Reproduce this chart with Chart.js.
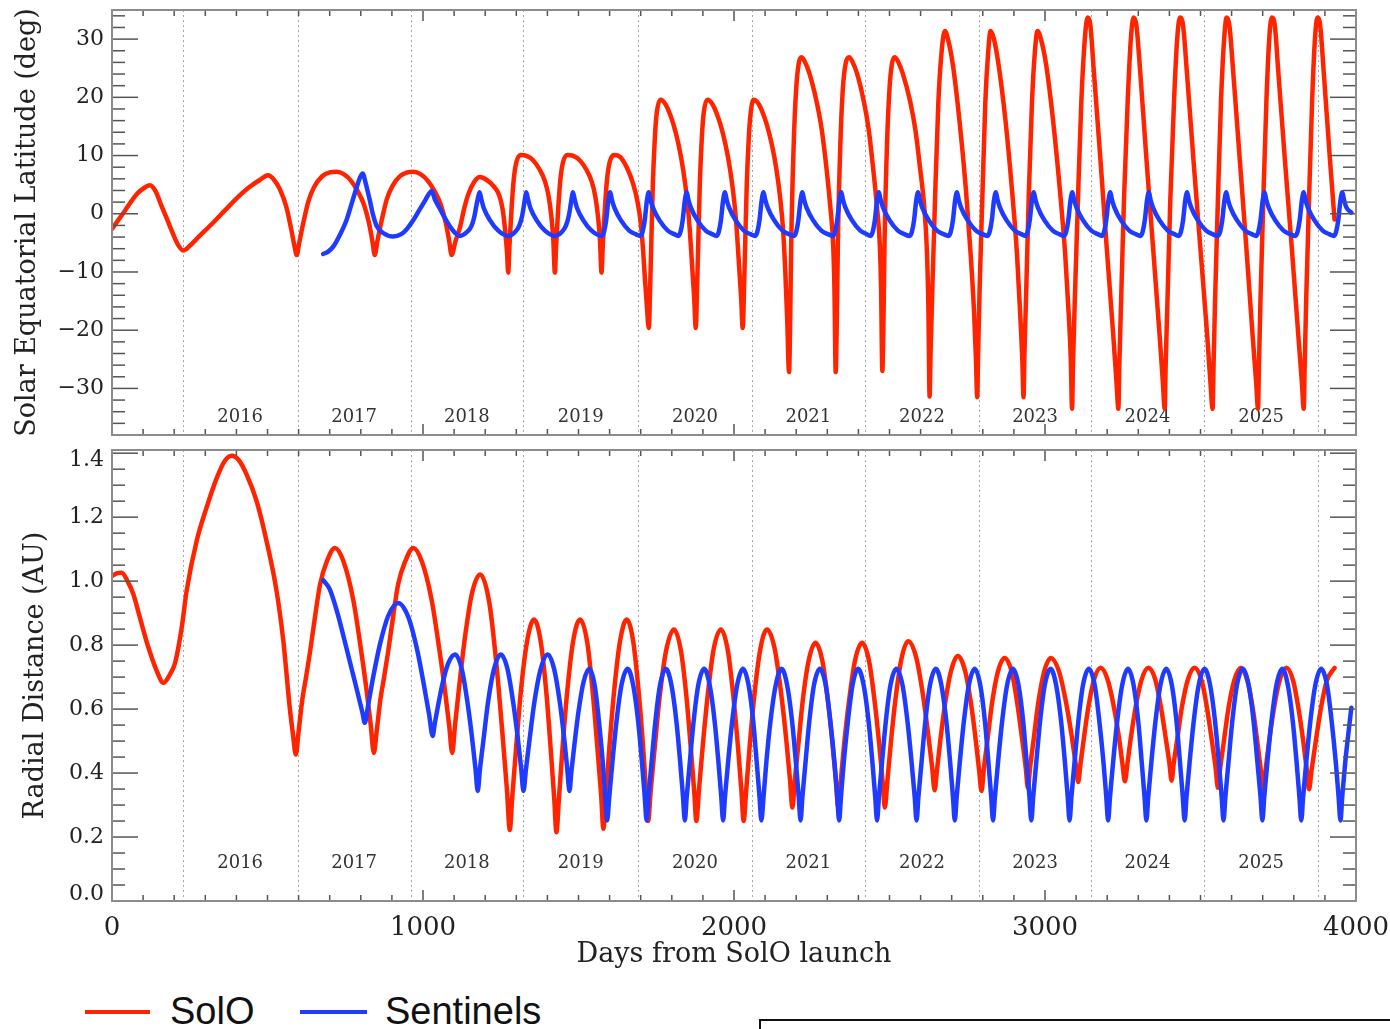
<!DOCTYPE html>
<html>
<head>
<meta charset="utf-8">
<title>SolO and Sentinels orbits</title>
<script src="https://cdn.jsdelivr.net/npm/chart.js@4.4.1/dist/chart.umd.min.js"></script>
<style>
  html, body { margin: 0; padding: 0; background: #fff; }
  #page { position: relative; width: 1390px; height: 1029px; overflow: hidden; background: #fff; }
  #latChart { position: absolute; left: 0; top: 0; }
  #distChart { position: absolute; left: 0; top: 440px; }
  .key { position: absolute; height: 4px; top: 1010px; }
  .lab { position: absolute; top: 992px; font: 38px/38px "Liberation Sans", Arial, sans-serif; color: #111; }
  #box { position: absolute; left: 759px; top: 1019px; width: 700px; height: 60px; border: 2px solid #111; }
</style>
</head>
<body>
<div id="page">
  <canvas id="latChart" width="1390" height="445"></canvas>
  <canvas id="distChart" width="1390" height="540"></canvas>
  <div class="key" style="left:85px;width:65px;background:#ff2400"></div>
  <div class="lab" style="left:170px">SolO</div>
  <div class="key" style="left:300px;width:67px;background:#1f3bff"></div>
  <div class="lab" style="left:385px">Sentinels</div>
  <div id="box"></div>
</div>
<script>
// ---- axis ticks and year markers ----
const dayTicks = [0, 1000, 2000, 3000, 4000];
const latTicks = [-30, -20, -10, 0, 10, 20, 30];
const distTicks = [0, 0.2, 0.4, 0.6, 0.8, 1.0, 1.2, 1.4];
const yearStartDays = [227, 597, 960, 1322, 1692, 2057, 2421, 2788, 3148, 3511, 3879];
const yearNames = ['2016', '2017', '2018', '2019', '2020', '2021', '2022', '2023', '2024', '2025'];

// ---- SolO solar equatorial latitude [day, deg] ----
const solOLat = [
  [0,-2.6],[40,0.4],[80,3.4],[108,4.6],[122,4.9],[140,3.9],[158,1.5],[176,-0.8],[195,-3.3],[212,-5.3],[229,-6.3],
  [250,-5.5],[280,-3.9],[320,-1.8],[360,0.4],[400,2.6],[440,4.5],[475,5.8],[502,6.6],[520,5.9],[540,4.2],[561,1.1],
  [576,-2.6],[587,-5.6],[594,-7.1],[602,-5.0],[615,-1.6],[632,2.2],[650,4.6],[675,6.4],[700,7.1],[722,7.2],[745,6.8],
  [768,5.7],[790,3.9],[810,1.6],[826,-1.5],[837,-4.6],[845,-7.1],[853,-4.8],[866,-1.4],[883,2.4],[902,4.8],[927,6.5],
  [950,7.1],[969,7.2],[992,6.8],[1015,5.7],[1037,3.9],[1057,1.6],[1073,-1.5],[1084,-4.6],[1092,-7.1],
  [1104,-4.8],[1119,-2.3],[1132,0.8],[1146,3.4],[1165,5.5],[1183,6.3],[1205,5.8],[1226,4.8],[1245,3.2],[1256,0.8],
  [1264,-2.8],[1270,-6.5],[1274,-10.1],
  [1278,-5.5],[1285,1.1],[1292,6.0],[1300,8.8],[1315,10.1],[1335,9.9],[1354,9.2],[1375,7.6],[1392,5.6],[1404,3.0],
  [1413,-0.6],[1419,-4.5],[1424,-10.1],
  [1428,-5.5],[1435,1.1],[1442,6.0],[1450,8.8],[1465,10.1],[1485,9.9],[1504,9.2],[1525,7.6],[1542,5.6],[1554,3.0],
  [1563,-0.6],[1569,-4.5],[1574,-10.1],
  [1578,-5.5],[1585,1.1],[1592,6.0],[1600,8.8],[1614,10.1],[1633,9.8],[1655,8.0],[1676,5.1],[1690,2.0],[1700,-1.5],
  [1708,-6.5],[1714,-11.5],[1720,-16.0],[1726,-19.6],
  [1731,-11.4],[1739,5.0],[1746,13.5],[1752,17.5],[1763,19.6],[1780,18.8],[1805,15.4],[1822,11.8],[1837,7.4],[1850,2.0],
  [1858,-2.9],[1866,-9.5],[1872,-14.5],[1877,-19.6],
  [1882,-11.4],[1890,5.0],[1897,13.5],[1903,17.5],[1914,19.6],[1931,18.8],[1956,15.4],[1973,11.8],[1988,7.4],[2001,2.0],
  [2009,-2.9],[2017,-9.5],[2023,-14.5],[2028,-19.6],
  [2033,-11.4],[2041,5.0],[2048,13.5],[2054,17.5],[2063,19.6],[2080,18.8],[2105,15.4],[2122,11.8],[2137,7.4],[2150,2.0],
  [2158,-2.9],[2165,-10],[2171,-18],[2177,-27.2],
  [2181,-17],[2184,-5],[2192,12],[2200,21.5],[2208,25.8],[2217,26.9],[2227,26.2],[2242,24.2],[2265,19.4],[2282,14.5],
  [2297,8.0],[2310,1.0],[2319,-5.5],[2323,-13],[2327,-27.2],
  [2331,-17],[2334,-5],[2342,12],[2350,21.5],[2359,25.8],[2370,26.9],[2380,26.2],[2395,24.2],[2417,19.4],[2433,14.5],
  [2447,8.0],[2460,1.0],[2469,-5.5],[2473,-13],[2477,-27.0],
  [2481,-17],[2484,-5],[2492,12],[2500,21.5],[2508,25.8],[2517,26.9],[2527,26.2],[2542,24.2],[2566,19.4],[2583,14.5],
  [2598,8.0],[2612,1.0],[2620,-6],[2625,-16],[2629,-31.4],
  [2632,-24],[2638,-12.5],[2647,3.5],[2657,19],[2667,27.5],[2678,31.4],[2688,30],[2704,25.5],[2725,16],[2746,4],
  [2761,-7],[2772,-17],[2778,-25],[2782,-31.5],
  [2785,-24],[2790,-12.5],[2799,3.5],[2808,19],[2817,27.5],[2825,31.4],[2836,30],[2851,25.5],[2873,16],[2894,4],
  [2910,-7],[2920,-17],[2927,-25],[2931,-31.5],
  [2934,-24],[2940,-12.5],[2948,3.5],[2958,19],[2967,27.5],[2976,31.4],[2987,30],[3004,25.5],[3026,16],[3048,4],
  [3065,-7],[3076,-17],[3083,-25],[3087,-33.5],
  [3090,-26],[3096,-14.5],[3106,2.5],[3117,19.5],[3128,30],[3137,33.7],[3146,32.3],[3157,24.5],[3178,9.5],[3198,-5.5],
  [3219,-20.5],[3230,-29],[3236,-33.5],
  [3239,-26],[3245,-14.5],[3254,2.5],[3266,19.5],[3276,30],[3285,33.7],[3294,32.3],[3306,24.5],[3326,9.5],[3347,-5.5],
  [3368,-20.5],[3379,-29],[3385,-33.5],
  [3388,-26],[3394,-14.5],[3403,2.5],[3415,19.5],[3425,30],[3434,33.7],[3444,32.3],[3456,24.5],[3477,9.5],[3499,-5.5],
  [3521,-20.5],[3532,-29],[3539,-33.5],
  [3542,-26],[3547,-14.5],[3556,2.5],[3566,19.5],[3576,30],[3584,33.7],[3593,32.3],[3605,24.5],[3626,9.5],[3647,-5.5],
  [3667,-20.5],[3679,-29],[3685,-33.5],
  [3688,-26],[3693,-14.5],[3702,2.5],[3712,19.5],[3721,30],[3729,33.7],[3739,32.3],[3750,24.5],[3771,9.5],[3793,-5.5],
  [3814,-20.5],[3826,-29],[3832,-33.5],
  [3835,-26],[3840,-14.5],[3849,2.5],[3859,19.5],[3868,30],[3876,33.7],[3885,32.3],[3896,24.5],[3916,9.5],[3931,-1.0]
];

// ---- Sentinels solar equatorial latitude [day, deg] ----
const sentLat = [
  [679,-6.9],[695,-6.5],[712,-5.6],[733,-3.6],[754,-1.1],[772,2.0],[787,4.6],[798,6.3],[806,6.9],[815,5.4],[829,2.3],
  [840,-0.3],[851,-2.1],[872,-3.3],[904,-3.9],[930,-3.5],[947,-2.7],[970,-1.0],[990,0.8],[1008,2.4],[1020,3.5],
  [1028,3.9],[1038,2.5],[1054,0.9],[1070,-0.7],[1087,-2.2],[1103,-3.3],[1119,-3.8],
  [1140,-3.2],[1155,-2.2],[1165,-0.5],[1172,1.5],[1178,3.0],[1182,3.7],[1188,2.4],[1196,0.9],[1215,-1.1],[1242,-2.9],[1274,-3.8],
  [1295,-3.2],[1310,-2.0],[1319,-0.3],[1325,1.6],[1329,3.0],[1332,3.7],[1338,2.4],[1346,0.9],[1365,-1.1],[1392,-2.9],[1424,-3.8],
  [1445,-3.2],[1460,-2.0],[1469,-0.3],[1475,1.6],[1479,3.0],[1482,3.7],[1488,2.4],[1496,0.9],[1515,-1.1],[1542,-2.9],[1575,-3.8],
  [1582,-3.1],[1589,-1.1],[1596,2.3],[1602,3.7],[1607,2.5],[1615,1.1],[1636,-1.1],[1663,-2.9],[1684,-3.5],[1699,-3.8],
  [1706,-3.1],[1713,-1.1],[1720,2.3],[1726,3.7],[1731,2.5],[1739,1.1],[1760,-1.1],[1787,-2.9],[1808,-3.5],[1821,-3.8],
  [1828,-3.1],[1835,-1.1],[1842,2.3],[1848,3.7],[1853,2.5],[1861,1.1],[1882,-1.1],[1909,-2.9],[1930,-3.5],[1944,-3.8],
  [1951,-3.1],[1958,-1.1],[1965,2.3],[1971,3.7],[1976,2.5],[1984,1.1],[2005,-1.1],[2032,-2.9],[2053,-3.5],[2068,-3.8],
  [2075,-3.1],[2082,-1.1],[2089,2.3],[2095,3.7],[2100,2.5],[2108,1.1],[2129,-1.1],[2156,-2.9],[2177,-3.5],[2193,-3.8],
  [2200,-3.1],[2207,-1.1],[2214,2.3],[2220,3.7],[2225,2.5],[2233,1.1],[2254,-1.1],[2281,-2.9],[2302,-3.5],[2318,-3.8],
  [2325,-3.1],[2332,-1.1],[2339,2.3],[2345,3.7],[2350,2.5],[2358,1.1],[2379,-1.1],[2406,-2.9],[2427,-3.5],[2439,-3.8],
  [2446,-3.1],[2453,-1.1],[2460,2.3],[2466,3.7],[2471,2.5],[2479,1.1],[2500,-1.1],[2527,-2.9],[2548,-3.5],[2565,-3.8],
  [2572,-3.1],[2579,-1.1],[2586,2.3],[2592,3.7],[2597,2.5],[2605,1.1],[2626,-1.1],[2653,-2.9],[2674,-3.5],[2690,-3.8],
  [2697,-3.1],[2704,-1.1],[2711,2.3],[2717,3.7],[2722,2.5],[2730,1.1],[2751,-1.1],[2778,-2.9],[2799,-3.5],[2815,-3.8],
  [2822,-3.1],[2829,-1.1],[2836,2.3],[2842,3.7],[2847,2.5],[2855,1.1],[2876,-1.1],[2903,-2.9],[2924,-3.5],[2937,-3.8],
  [2944,-3.1],[2951,-1.1],[2958,2.3],[2964,3.7],[2969,2.5],[2977,1.1],[2998,-1.1],[3025,-2.9],[3046,-3.5],[3061,-3.8],
  [3068,-3.1],[3075,-1.1],[3082,2.3],[3088,3.7],[3093,2.5],[3101,1.1],[3122,-1.1],[3149,-2.9],[3170,-3.5],[3183,-3.8],
  [3190,-3.1],[3197,-1.1],[3204,2.3],[3210,3.7],[3215,2.5],[3223,1.1],[3244,-1.1],[3271,-2.9],[3292,-3.5],[3307,-3.8],
  [3314,-3.1],[3321,-1.1],[3328,2.3],[3334,3.7],[3339,2.5],[3347,1.1],[3368,-1.1],[3395,-2.9],[3416,-3.5],[3430,-3.8],
  [3437,-3.1],[3444,-1.1],[3451,2.3],[3457,3.7],[3462,2.5],[3470,1.1],[3491,-1.1],[3518,-2.9],[3539,-3.5],[3556,-3.8],
  [3563,-3.1],[3570,-1.1],[3577,2.3],[3583,3.7],[3588,2.5],[3596,1.1],[3617,-1.1],[3644,-2.9],[3665,-3.5],[3679,-3.8],
  [3686,-3.1],[3693,-1.1],[3700,2.3],[3706,3.7],[3711,2.5],[3719,1.1],[3740,-1.1],[3767,-2.9],[3788,-3.5],[3805,-3.8],
  [3812,-3.1],[3819,-1.1],[3826,2.3],[3832,3.7],[3837,2.5],[3845,1.1],[3866,-1.1],[3893,-2.9],[3914,-3.5],[3929,-3.8],
  [3936,-3.1],[3943,-1.1],[3950,2.3],[3956,3.7],[3961,2.5],[3969,1.1],[3985,0.2]
];

// ---- SolO radial distance [day, AU] ----
const solODist = [
  [0,1.016],[15,1.024],[31,1.026],[50,1.0],[69,0.958],[90,0.885],[111,0.812],[130,0.755],[144,0.719],[165,0.682],
  [186,0.708],[203,0.745],[224,0.854],[240,0.97],[272,1.125],[304,1.23],[337,1.323],[362,1.375],[385,1.392],
  [408,1.378],[433,1.333],[465,1.25],[497,1.125],[529,0.97],[551,0.812],[572,0.60],[582,0.52],[591,0.458],
  [600,0.53],[612,0.63],[624,0.70],[637,0.78],[653,0.89],[669,0.99],[690,1.06],[717,1.104],[745,1.06],[776,0.94],
  [800,0.79],[819,0.656],[832,0.55],[842,0.463],
  [851,0.53],[863,0.63],[875,0.70],[888,0.78],[904,0.89],[920,0.99],[942,1.06],[969,1.104],[997,1.06],[1028,0.94],
  [1052,0.79],[1071,0.656],[1084,0.55],[1094,0.463],
  [1103,0.550],[1117,0.677],[1135,0.825],[1157,0.960],[1184,1.021],
  [1213,0.934],[1236,0.741],[1255,0.528],[1270,0.347],[1279,0.222],
  [1287,0.325],[1299,0.474],[1314,0.649],[1334,0.808],[1357,0.880],
  [1379,0.808],[1397,0.647],[1411,0.470],[1422,0.319],[1429,0.215],
  [1437,0.319],[1448,0.470],[1463,0.647],[1482,0.808],[1505,0.880],
  [1528,0.809],[1546,0.650],[1561,0.476],[1573,0.328],[1580,0.226],
  [1588,0.328],[1599,0.476],[1614,0.650],[1633,0.809],[1655,0.880],
  [1676,0.811],[1693,0.659],[1707,0.491],[1717,0.348],[1724,0.25],
  [1732,0.343],[1745,0.479],[1761,0.639],[1782,0.784],[1807,0.849],
  [1829,0.784],[1847,0.639],[1861,0.479],[1872,0.343],[1879,0.25],
  [1887,0.343],[1899,0.479],[1915,0.639],[1934,0.784],[1958,0.849],
  [1980,0.784],[1998,0.639],[2013,0.479],[2024,0.343],[2031,0.25],
  [2039,0.343],[2050,0.479],[2065,0.639],[2084,0.784],[2106,0.849],
  [2131,0.788],[2151,0.653],[2168,0.505],[2180,0.379],[2188,0.292],
  [2195,0.372],[2207,0.489],[2221,0.626],[2240,0.751],[2262,0.807],
  [2284,0.751],[2302,0.626],[2317,0.489],[2328,0.372],[2335,0.292],
  [2343,0.372],[2354,0.489],[2370,0.626],[2389,0.751],[2412,0.807],
  [2434,0.751],[2452,0.626],[2467,0.489],[2478,0.372],[2485,0.292],
  [2493,0.373],[2504,0.491],[2519,0.629],[2538,0.755],[2560,0.812],
  [2586,0.761],[2607,0.648],[2624,0.524],[2637,0.419],[2645,0.346],
  [2653,0.412],[2664,0.507],[2679,0.619],[2698,0.720],[2720,0.766],
  [2743,0.720],[2762,0.618],[2777,0.506],[2788,0.410],[2796,0.344],
  [2803,0.409],[2815,0.503],[2829,0.614],[2848,0.715],[2870,0.760],
  [2893,0.716],[2911,0.617],[2926,0.509],[2938,0.417],[2945,0.354],
  [2952,0.417],[2964,0.509],[2978,0.617],[2997,0.716],[3019,0.760],
  [3045,0.718],[3067,0.624],[3085,0.521],[3098,0.433],[3107,0.372],
  [3114,0.428],[3125,0.509],[3139,0.604],[3157,0.690],[3179,0.729],
  [3202,0.690],[3222,0.604],[3238,0.510],[3249,0.429],[3257,0.374],
  [3265,0.429],[3276,0.510],[3291,0.604],[3310,0.690],[3332,0.729],
  [3355,0.691],[3373,0.605],[3388,0.511],[3400,0.431],[3407,0.376],
  [3414,0.431],[3426,0.511],[3440,0.605],[3459,0.691],[3481,0.729],
  [3504,0.688],[3522,0.597],[3537,0.498],[3549,0.413],[3556,0.354],
  [3563,0.413],[3575,0.498],[3589,0.597],[3608,0.688],[3630,0.729],
  [3651,0.688],[3669,0.596],[3683,0.495],[3694,0.408],[3701,0.349],
  [3709,0.408],[3720,0.495],[3735,0.596],[3754,0.688],[3776,0.729],
  [3798,0.688],[3816,0.596],[3831,0.495],[3842,0.408],[3849,0.349],
  [3857,0.408],[3870,0.495],[3886,0.596],[3906,0.688],[3931,0.729]
];

// ---- Sentinels radial distance [day, AU] ----
const sentDist = [
  [679,1.003],[700,0.975],[725,0.90],[754,0.79],[785,0.67],[805,0.59],[813,0.557],
  [824,0.615],[840,0.701],[861,0.800],[888,0.891],[920,0.932],
  [953,0.887],[981,0.786],[1003,0.675],[1020,0.581],[1031,0.516],
  [1038,0.556],[1049,0.614],[1063,0.681],[1081,0.743],[1103,0.771],
  [1125,0.724],[1143,0.621],[1158,0.508],[1169,0.411],[1176,0.344],
  [1183,0.411],[1195,0.508],[1209,0.621],[1228,0.724],[1250,0.771],
  [1272,0.724],[1290,0.621],[1305,0.508],[1316,0.411],[1323,0.344],
  [1331,0.411],[1343,0.508],[1358,0.621],[1378,0.724],[1401,0.771],
  [1422,0.724],[1440,0.621],[1454,0.508],[1464,0.411],[1471,0.344],
  [1477,0.404],[1487,0.490],[1500,0.592],[1516,0.684],[1535,0.726],
  [1552,0.674],[1566,0.560],[1578,0.434],[1586,0.326],[1592,0.252],
  [1599,0.326],[1609,0.434],[1622,0.560],[1638,0.674],[1658,0.726],
  [1676,0.674],[1692,0.560],[1704,0.434],[1713,0.326],[1719,0.252],
  [1725,0.326],[1735,0.434],[1747,0.560],[1762,0.674],[1781,0.726],
  [1799,0.674],[1815,0.560],[1827,0.434],[1836,0.326],[1842,0.252],
  [1848,0.326],[1858,0.434],[1870,0.560],[1885,0.674],[1904,0.726],
  [1922,0.674],[1938,0.560],[1950,0.434],[1959,0.326],[1965,0.252],
  [1971,0.326],[1981,0.434],[1994,0.560],[2010,0.674],[2029,0.726],
  [2047,0.674],[2062,0.560],[2073,0.434],[2082,0.326],[2088,0.252],
  [2095,0.326],[2104,0.434],[2117,0.560],[2134,0.674],[2153,0.726],
  [2171,0.674],[2187,0.560],[2199,0.434],[2208,0.326],[2214,0.252],
  [2220,0.326],[2230,0.434],[2242,0.560],[2257,0.674],[2276,0.726],
  [2295,0.674],[2310,0.560],[2323,0.434],[2332,0.326],[2338,0.252],
  [2344,0.326],[2353,0.434],[2366,0.560],[2381,0.674],[2399,0.726],
  [2417,0.674],[2433,0.560],[2445,0.434],[2454,0.326],[2460,0.252],
  [2466,0.326],[2476,0.434],[2488,0.560],[2503,0.674],[2522,0.726],
  [2542,0.674],[2558,0.560],[2571,0.434],[2581,0.326],[2587,0.252],
  [2593,0.326],[2603,0.434],[2615,0.560],[2630,0.674],[2649,0.726],
  [2667,0.674],[2683,0.560],[2695,0.434],[2704,0.326],[2710,0.252],
  [2716,0.326],[2726,0.434],[2739,0.560],[2755,0.674],[2774,0.726],
  [2792,0.674],[2807,0.560],[2818,0.434],[2827,0.326],[2833,0.252],
  [2839,0.326],[2849,0.434],[2862,0.560],[2878,0.674],[2897,0.726],
  [2915,0.674],[2930,0.560],[2941,0.434],[2950,0.326],[2956,0.252],
  [2962,0.326],[2972,0.434],[2984,0.560],[2999,0.674],[3018,0.726],
  [3036,0.674],[3052,0.560],[3064,0.434],[3073,0.326],[3079,0.252],
  [3085,0.326],[3095,0.434],[3107,0.560],[3122,0.674],[3141,0.726],
  [3160,0.674],[3175,0.560],[3188,0.434],[3197,0.326],[3203,0.252],
  [3209,0.326],[3219,0.434],[3232,0.560],[3248,0.674],[3267,0.726],
  [3285,0.674],[3300,0.560],[3311,0.434],[3320,0.326],[3326,0.252],
  [3332,0.326],[3342,0.434],[3355,0.560],[3371,0.674],[3390,0.726],
  [3408,0.674],[3423,0.560],[3434,0.434],[3443,0.326],[3449,0.252],
  [3455,0.326],[3465,0.434],[3478,0.560],[3494,0.674],[3513,0.726],
  [3531,0.674],[3547,0.560],[3559,0.434],[3568,0.326],[3574,0.252],
  [3580,0.326],[3590,0.434],[3602,0.560],[3617,0.674],[3636,0.726],
  [3655,0.674],[3671,0.560],[3683,0.434],[3693,0.326],[3699,0.252],
  [3705,0.326],[3715,0.434],[3728,0.560],[3744,0.674],[3763,0.726],
  [3781,0.674],[3797,0.560],[3809,0.434],[3818,0.326],[3824,0.252],
  [3830,0.326],[3840,0.434],[3853,0.560],[3869,0.674],[3888,0.726],
  [3907,0.674],[3922,0.560],[3935,0.434],[3944,0.326],[3950,0.252],
  [3956,0.33],[3965,0.43],[3975,0.52],[3985,0.604]
];

const RED = '#ff2400';
const BLUE = '#1f3bff';
const SERIF = '"DejaVu Serif", "Liberation Serif", serif';

const toPoints = arr => arr.map(([x, y]) => ({ x, y }));

// Dotted year boundaries, year names, a grey frame and inward tick marks for each panel.
const panelFrame = {
  id: 'panelFrame',
  beforeDatasetsDraw(chart, _args, o) {
    const { ctx, chartArea: a } = chart;
    const xs = chart.scales.x, ys = chart.scales.y;
    ctx.save();
    ctx.strokeStyle = '#a8a8a8';
    ctx.lineWidth = 1;
    ctx.setLineDash([2, 3]);
    yearStartDays.forEach(d => {
      const px = Math.round(xs.getPixelForValue(d)) + 0.5;
      ctx.beginPath(); ctx.moveTo(px, a.top); ctx.lineTo(px, a.bottom); ctx.stroke();
    });
    ctx.setLineDash([]);
    ctx.fillStyle = '#333';
    ctx.font = '18px ' + SERIF;
    ctx.textAlign = 'center';
    ctx.textBaseline = 'middle';
    yearNames.forEach((t, i) => {
      const mid = (yearStartDays[i] + yearStartDays[i + 1]) / 2;
      ctx.fillText(t, xs.getPixelForValue(mid), ys.getPixelForValue(o.yearLabelAt));
    });
    ctx.restore();
  },
  afterDatasetsDraw(chart, _args, o) {
    const { ctx, chartArea: a } = chart;
    const xs = chart.scales.x, ys = chart.scales.y;
    ctx.save();
    ctx.strokeStyle = '#555';
    ctx.lineWidth = 1.5;
    const seg = (x1, y1, x2, y2) => { ctx.beginPath(); ctx.moveTo(x1, y1); ctx.lineTo(x2, y2); ctx.stroke(); };
    for (let k = 0; k <= 40; k++) {
      const px = xs.getPixelForValue(k * 100);
      const len = k % 10 === 0 ? 11 : 6;
      seg(px, a.bottom, px, a.bottom - len);
      seg(px, a.top, px, a.top + len);
    }
    for (let k = o.kMin; k <= o.kMax; k++) {
      const py = ys.getPixelForValue(k * o.minorStep);
      const len = k % o.majorEvery === 0 ? 26 : 13;
      seg(a.left, py, a.left + len, py);
      seg(a.right, py, a.right - len, py);
    }
    ctx.strokeStyle = '#8c8c8c';
    ctx.lineWidth = 2;
    ctx.strokeRect(a.left, a.top, a.right - a.left, a.bottom - a.top);
    ctx.restore();
  }
};

function lineSet(label, arr, color) {
  return {
    label, data: toPoints(arr), borderColor: color, backgroundColor: color,
    borderWidth: 4.5, pointRadius: 0, fill: false,
    cubicInterpolationMode: 'monotone', borderJoinStyle: 'round', borderCapStyle: 'round'
  };
}

function yAxis(min, max, ticks, fmt, title, titlePad, lineHeight) {
  return {
    type: 'linear', position: 'left', min, max,
    grid: { display: false, drawTicks: false },
    border: { display: false },
    afterBuildTicks(s) { s.ticks = ticks.map(v => ({ value: v })); },
    ticks: { color: '#222', padding: 8, font: { family: SERIF, size: 22, lineHeight }, callback: fmt },
    title: { display: true, text: title, color: '#222', font: { family: SERIF, size: 27 }, padding: { top: titlePad, bottom: 0 } },
    afterFit(s) { s.width = 112; s.paddingTop = 0; s.paddingBottom = 0; }
  };
}

const latFmt = v => (v < 0 ? '\u2212' + Math.abs(v) : String(v));
// the end labels of the distance axis sit just inside the frame
const distFmt = v => {
  const t = Number(v).toFixed(1);
  if (v >= 1.4) return ['', t];
  if (v <= 0) return [t, ''];
  return t;
};

// Upper panel: solar equatorial latitude
new Chart(document.getElementById('latChart'), {
  type: 'line',
  data: { datasets: [lineSet('Sentinels', sentLat, BLUE), lineSet('SolO', solOLat, RED)] },
  options: {
    responsive: false, animation: false, devicePixelRatio: 1,
    layout: { padding: { left: 0, right: 34, top: 10, bottom: 10 } },
    plugins: {
      legend: { display: false }, tooltip: { enabled: false },
      panelFrame: { yearLabelAt: -34.9, kMin: -19, kMax: 17, minorStep: 2, majorEvery: 5 }
    },
    scales: {
      x: {
        type: 'linear', min: 0, max: 4000,
        grid: { display: false, drawTicks: false }, border: { display: false },
        ticks: { display: false },
        afterFit(s) { s.height = 0; s.paddingLeft = 0; s.paddingRight = 0; }
      },
      y: yAxis(-38, 35, latTicks, latFmt, 'Solar Equatorial Latitude (deg)', 11.8, 1.2)
    }
  },
  plugins: [panelFrame]
});

// Lower panel: radial distance from the Sun
new Chart(document.getElementById('distChart'), {
  type: 'line',
  data: { datasets: [lineSet('Sentinels', sentDist, BLUE), lineSet('SolO', solODist, RED)] },
  options: {
    responsive: false, animation: false, devicePixelRatio: 1,
    layout: { padding: { left: 0, right: 34, top: 10, bottom: 0 } },
    plugins: {
      legend: { display: false }, tooltip: { enabled: false },
      panelFrame: { yearLabelAt: 0.119, kMin: 0, kMax: 28, minorStep: 0.05, majorEvery: 4 }
    },
    scales: {
      x: {
        type: 'linear', min: 0, max: 4000,
        grid: { display: false, drawTicks: false }, border: { display: false },
        afterBuildTicks(s) { s.ticks = dayTicks.map(v => ({ value: v })); },
        ticks: { color: '#222', padding: 12, maxRotation: 0, font: { family: SERIF, size: 26 }, callback: v => String(v) },
        title: { display: true, text: 'Days from SolO launch', color: '#222', font: { family: SERIF, size: 27 }, padding: { top: 0, bottom: 8.8 } },
        afterFit(s) { s.height = 79; s.paddingLeft = 0; s.paddingRight = 0; }
      },
      y: yAxis(0, 1.41, distTicks, distFmt, 'Radial Distance (AU)', 19.8, 0.62)
    }
  },
  plugins: [panelFrame]
});
</script>
</body>
</html>
